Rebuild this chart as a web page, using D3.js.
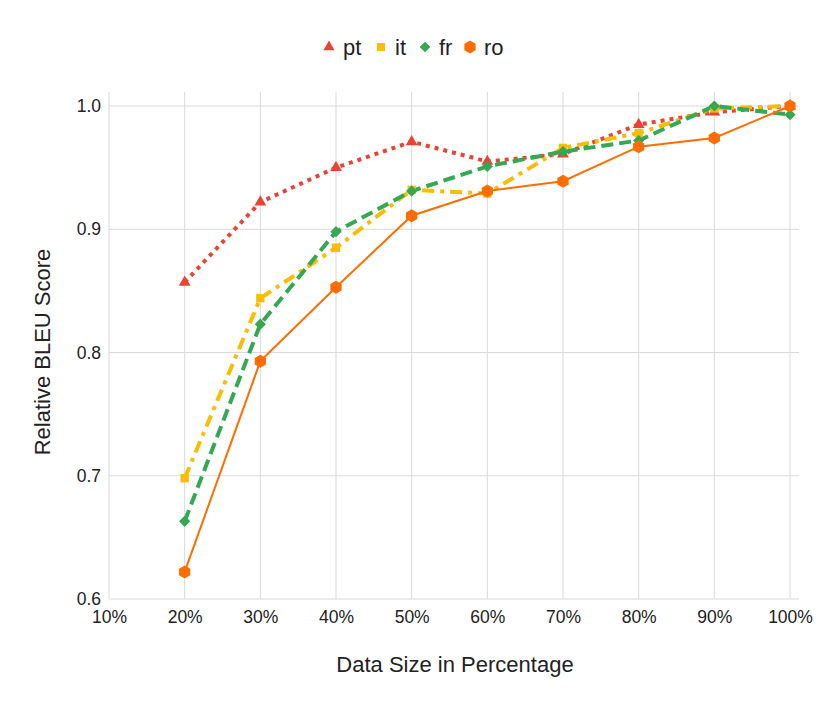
<!DOCTYPE html>
<html>
<head>
<meta charset="utf-8">
<script src="https://cdn.jsdelivr.net/npm/d3@7"></script>
<style>
  body { margin: 0; background: #fff; }
  text { font-family: "Liberation Sans", Arial, sans-serif; fill: #222; }
</style>
</head>
<body>
<script>
const width = 830
const height = 703

// data
const sizes = [20, 30, 40, 50, 60, 70, 80, 90, 100]
const xTicks = [10, 20, 30, 40, 50, 60, 70, 80, 90, 100]
const yTicks = [0.6, 0.7, 0.8, 0.9, 1.0]
const pt = [0.857, 0.922, 0.950, 0.971, 0.955, 0.961, 0.985, 0.995, 1.0]
const it = [0.698, 0.844, 0.885, 0.932, 0.929, 0.966, 0.978, 0.998, 1.0]
const fr = [0.663, 0.823, 0.898, 0.931, 0.951, 0.963, 0.972, 1.0, 0.993]
const ro = [0.622, 0.793, 0.853, 0.911, 0.931, 0.939, 0.967, 0.974, 1.0]

const series = [
  { name: "pt", values: pt, color: "#ea4335", width: 4, dash: "4,5", symbol: d3.symbolTriangle, size: 60 },
  { name: "it", values: it, color: "#fbbc04", width: 4, dash: "12,6,4,6", symbol: d3.symbolSquare, size: 70 },
  { name: "fr", values: fr, color: "#34a853", width: 4, dash: "12,6", symbol: d3.symbolDiamond2, size: 80 },
  { name: "ro", values: ro, color: "#ff6d01", width: 2, dash: null, symbol: "hex", size: 6.5 }
]

const plotLeft = 109, plotRight = 790, plotTop = 106, plotBottom = 599

const svg = d3.select("body")
    .append("svg")
    .attr("width", width)
    .attr("height", height)

const xScale = d3.scaleLinear().domain([10, 100]).range([plotLeft, plotRight])
const yScale = d3.scaleLinear().domain([0.6, 1.0]).range([plotBottom, plotTop])

// grid
svg.append("g")
    .selectAll("line")
    .data(yTicks)
    .enter()
    .append("line")
    .attr("x1", plotLeft)
    .attr("x2", 799)
    .attr("y1", d => yScale(d))
    .attr("y2", d => yScale(d))
    .attr("stroke", "#d9d9d9")
    .attr("stroke-width", 1)

svg.append("g")
    .selectAll("line")
    .data(xTicks)
    .enter()
    .append("line")
    .attr("x1", d => xScale(d))
    .attr("x2", d => xScale(d))
    .attr("y1", plotTop - 14)
    .attr("y2", plotBottom)
    .attr("stroke", "#d9d9d9")
    .attr("stroke-width", 1)

// axes (labels only)
const xAxis = d3.axisBottom(xScale).tickValues(xTicks).tickSize(0).tickPadding(12).tickFormat(d => d + "%")
const gx = svg.append("g").attr("transform", "translate(0," + plotBottom + ")").call(xAxis)
gx.select(".domain").remove()
gx.selectAll("text").style("font-size", "17.5px").style("font-family", "Liberation Sans, Arial, sans-serif").attr("fill", "#222")

const yAxis = d3.axisLeft(yScale).tickValues(yTicks).tickSize(0).tickPadding(8).tickFormat(d3.format(".1f"))
const gy = svg.append("g").attr("transform", "translate(" + plotLeft + ",0)").call(yAxis)
gy.select(".domain").remove()
gy.selectAll("text").style("font-size", "17.5px").style("font-family", "Liberation Sans, Arial, sans-serif").attr("fill", "#222")

// axis titles
svg.append("text")
    .attr("x", 455)
    .attr("y", 672)
    .attr("text-anchor", "middle")
    .style("font-size", "22px")
    .text("Data Size in Percentage")

svg.append("text")
    .attr("transform", "translate(50,352) rotate(-90)")
    .attr("text-anchor", "middle")
    .style("font-size", "22px")
    .text("Relative BLEU Score")

function hexPath(r) {
    const pts = d3.range(6).map(i => {
        const a = Math.PI / 6 + i * Math.PI / 3
        return [r * Math.cos(a), r * Math.sin(a)]
    })
    return "M" + pts.map(p => p.join(",")).join("L") + "Z"
}

function markerPath(s) {
    if (s.symbol === "hex") return hexPath(s.size)
    return d3.symbol().type(s.symbol).size(s.size)()
}

const line = d3.line()
    .x((d, i) => xScale(sizes[i]))
    .y(d => yScale(d))

series.forEach(s => {
    svg.append("path")
        .datum(s.values)
        .attr("d", line)
        .attr("fill", "none")
        .attr("stroke", s.color)
        .attr("stroke-width", s.width)
        .attr("stroke-dasharray", s.dash)
})

series.forEach(s => {
    svg.append("g")
        .selectAll("path")
        .data(s.values)
        .enter()
        .append("path")
        .attr("d", markerPath(s))
        .attr("transform", (d, i) => "translate(" + xScale(sizes[i]) + "," + yScale(d) + ")")
        .attr("fill", s.color)
})

// legend
const legendX = [329, 381, 425, 470]
const legend = svg.append("g")
series.forEach((s, i) => {
    legend.append("path")
        .attr("d", markerPath(s.symbol === "hex" ? s : Object.assign({}, s, { size: s.size * 0.9 })))
        .attr("transform", "translate(" + legendX[i] + ",47)")
        .attr("fill", s.color)
    legend.append("text")
        .attr("x", legendX[i] + 14)
        .attr("y", 55)
        .style("font-size", "22px")
        .text(s.name)
})
</script>
</body>
</html>
